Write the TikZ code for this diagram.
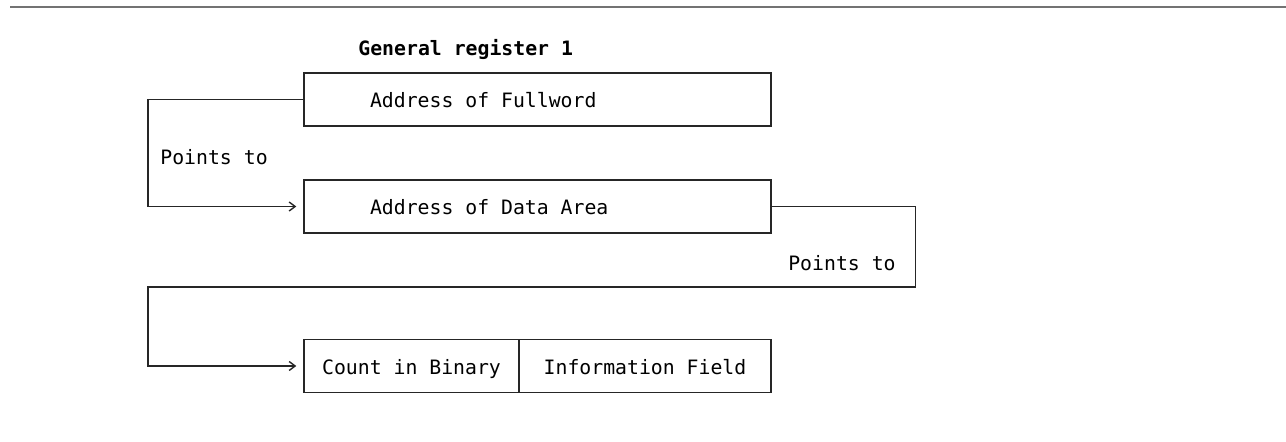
\documentclass[tikz,border=0pt]{standalone}
\usepackage{fontspec}
\setmonofont{DejaVu Sans Mono}
\usepackage{tikz}
\usetikzlibrary{arrows.meta}
\newcommand\regfont{\ttfamily\fontsize{9.9}{12}\selectfont}
\newcommand\lefttext[1]{\makebox[167.5pt][l]{#1}}
\begin{document}
\begin{tikzpicture}[x=0.5pt, y=-0.5pt, font=\regfont,
  box/.style={draw=black!85, line width=0.7pt, minimum height=26.5pt, inner sep=0pt,
              text height=8.5pt, text depth=0pt},
  wide/.style={box, minimum width=233.5pt},
  lbl/.style={inner sep=0pt},
  arr/.style={-{Straight Barb[length=3pt, width=4.5pt]}, line width=0.7pt, black!85, shorten >=3.5pt}]
\useasboundingbox (0,0) rectangle (1286,442);

% top rule
\draw[line width=1pt, black!55] (10,7) -- (1286,7);

% register and the words it points to
\node[lbl, anchor=west, font=\regfont\bfseries] (title) at (358,50) {General register 1};
\node[wide] (fullword) at (537.5,99.5) {\lefttext{Address of Fullword}};
\node[wide] (dataarea) at (537.5,206.5) {\lefttext{Address of Data Area}};
\node[box, minimum width=107.5pt] (count) at (411.5,366) {Count in Binary};
\node[box, minimum width=126pt] (info) at (645,366) {Information Field};

% pointer chain
\coordinate (bend) at (148,287);
\draw[arr] (fullword.west) -- (bend |- fullword.west) |- (dataarea.west);
\draw[arr] (dataarea.east) -- ++(144,0) |- (bend) |- (count.west);
\node[lbl, anchor=west] (pts1) at (160,157) {Points to};
\node[lbl, anchor=east] (pts2) at (896,263) {Points to};
\end{tikzpicture}
\end{document}
